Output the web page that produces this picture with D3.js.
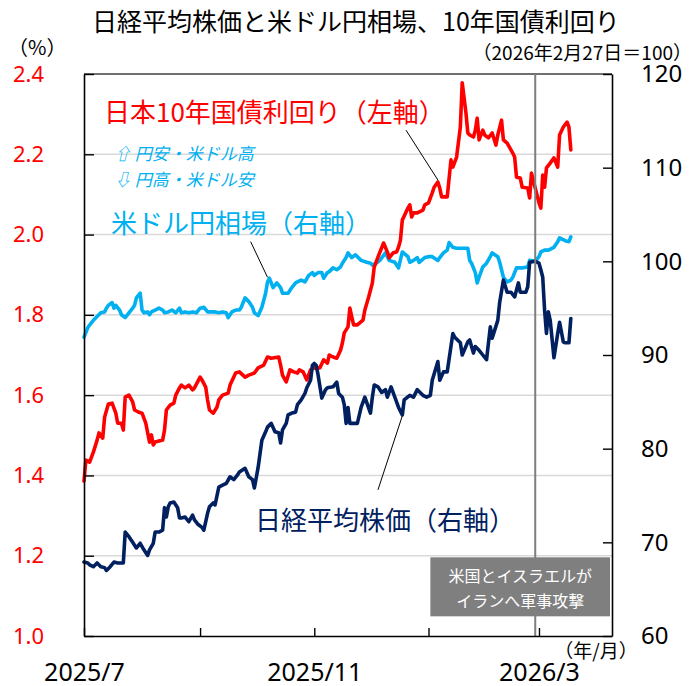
<!DOCTYPE html>
<html><head><meta charset="utf-8">
<script src="https://cdn.jsdelivr.net/npm/d3@7"></script>
<style>body{margin:0;background:#fff} svg{display:block}</style>
</head><body>
<svg id="c" width="700" height="686"></svg>
<script>
// ---- data ----
const jgb = [["2025-07-01",1.386],["2025-07-02",1.438],["2025-07-04",1.433],["2025-07-06",1.458],["2025-07-08",1.488],["2025-07-09",1.506],["2025-07-11",1.493],["2025-07-12",1.545],["2025-07-14",1.578],["2025-07-16",1.580],["2025-07-18",1.555],["2025-07-19",1.530],["2025-07-21",1.530],["2025-07-22",1.513],["2025-07-23",1.595],["2025-07-25",1.600],["2025-07-27",1.583],["2025-07-28",1.563],["2025-07-30",1.558],["2025-08-01",1.555],["2025-08-03",1.530],["2025-08-05",1.483],["2025-08-06",1.501],["2025-08-07",1.476],["2025-08-08",1.483],["2025-08-12",1.488],["2025-08-13",1.513],["2025-08-14",1.563],["2025-08-16",1.575],["2025-08-18",1.580],["2025-08-19",1.600],["2025-08-21",1.618],["2025-08-22",1.625],["2025-08-24",1.618],["2025-08-26",1.625],["2025-08-28",1.613],["2025-08-29",1.618],["2025-09-01",1.645],["2025-09-02",1.638],["2025-09-04",1.620],["2025-09-05",1.588],["2025-09-06",1.563],["2025-09-08",1.555],["2025-09-10",1.570],["2025-09-11",1.588],["2025-09-13",1.600],["2025-09-16",1.605],["2025-09-17",1.625],["2025-09-20",1.655],["2025-09-22",1.658],["2025-09-25",1.645],["2025-09-27",1.650],["2025-09-30",1.655],["2025-10-02",1.668],["2025-10-05",1.675],["2025-10-07",1.695],["2025-10-09",1.692],["2025-10-13",1.695],["2025-10-14",1.675],["2025-10-15",1.650],["2025-10-17",1.633],["2025-10-19",1.663],["2025-10-21",1.658],["2025-10-23",1.655],["2025-10-24",1.663],["2025-10-26",1.658],["2025-10-28",1.638],["2025-10-30",1.663],["2025-11-01",1.668],["2025-11-04",1.668],["2025-11-06",1.688],["2025-11-08",1.680],["2025-11-09",1.700],["2025-11-11",1.695],["2025-11-13",1.692],["2025-11-15",1.712],["2025-11-16",1.730],["2025-11-17",1.755],["2025-11-19",1.770],["2025-11-20",1.817],["2025-11-21",1.795],["2025-11-22",1.775],["2025-11-24",1.775],["2025-11-27",1.787],["2025-11-28",1.812],["2025-11-30",1.844],["2025-12-02",1.879],["2025-12-03",1.919],["2025-12-05",1.944],["2025-12-08",1.979],["2025-12-10",1.957],["2025-12-11",1.942],["2025-12-13",1.954],["2025-12-15",1.957],["2025-12-16",1.969],["2025-12-17",1.986],["2025-12-18",2.036],["2025-12-21",2.066],["2025-12-22",2.074],["2025-12-23",2.044],["2025-12-24",2.054],["2025-12-26",2.054],["2025-12-29",2.061],["2025-12-30",2.074],["2026-01-01",2.079],["2026-01-03",2.104],["2026-01-04",2.118],["2026-01-06",2.131],["2026-01-07",2.116],["2026-01-08",2.094],["2026-01-11",2.094],["2026-01-13",2.186],["2026-01-14",2.168],["2026-01-16",2.193],["2026-01-18",2.268],["2026-01-19",2.378],["2026-01-21",2.303],["2026-01-22",2.253],["2026-01-23",2.248],["2026-01-25",2.243],["2026-01-26",2.260],["2026-01-27",2.290],["2026-01-28",2.236],["2026-01-30",2.260],["2026-01-31",2.248],["2026-02-02",2.241],["2026-02-04",2.253],["2026-02-06",2.223],["2026-02-07",2.248],["2026-02-09",2.285],["2026-02-10",2.236],["2026-02-12",2.228],["2026-02-15",2.203],["2026-02-16",2.193],["2026-02-17",2.143],["2026-02-19",2.141],["2026-02-20",2.118],["2026-02-23",2.116],["2026-02-24",2.091],["2026-02-25",2.153],["2026-02-27",2.116],["2026-03-01",2.079],["2026-03-02",2.066],["2026-03-03",2.148],["2026-03-04",2.118],["2026-03-05",2.166],["2026-03-07",2.178],["2026-03-09",2.191],["2026-03-11",2.168],["2026-03-12",2.248],["2026-03-14",2.268],["2026-03-16",2.280],["2026-03-17",2.268],["2026-03-18",2.211]];

const usdjpy = [["2025-07-01",91.9],["2025-07-03",92.9],["2025-07-04",93.2],["2025-07-06",93.7],["2025-07-08",94.1],["2025-07-10",94.5],["2025-07-12",94.6],["2025-07-13",95.0],["2025-07-14",95.3],["2025-07-16",95.6],["2025-07-17",95.0],["2025-07-18",95.3],["2025-07-20",94.8],["2025-07-21",94.3],["2025-07-23",94.0],["2025-07-25",94.5],["2025-07-27",95.0],["2025-07-28",95.3],["2025-07-29",96.1],["2025-07-31",96.6],["2025-08-01",94.8],["2025-08-02",94.5],["2025-08-04",94.6],["2025-08-05",94.3],["2025-08-06",94.6],["2025-08-08",94.8],["2025-08-10",95.0],["2025-08-12",94.8],["2025-08-13",94.5],["2025-08-15",94.6],["2025-08-17",94.8],["2025-08-19",94.5],["2025-08-21",95.0],["2025-08-22",94.5],["2025-08-24",94.6],["2025-08-26",94.5],["2025-08-28",94.6],["2025-08-30",94.5],["2025-09-01",95.0],["2025-09-03",95.1],["2025-09-05",94.6],["2025-09-06",94.6],["2025-09-09",94.6],["2025-09-11",94.5],["2025-09-13",94.6],["2025-09-15",94.5],["2025-09-16",94.0],["2025-09-18",94.6],["2025-09-20",94.8],["2025-09-22",94.8],["2025-09-23",95.1],["2025-09-25",96.1],["2025-09-27",95.7],["2025-09-29",95.1],["2025-09-30",94.5],["2025-10-02",94.2],["2025-10-04",95.1],["2025-10-06",96.6],["2025-10-07",97.8],["2025-10-08",98.2],["2025-10-10",97.2],["2025-10-12",97.7],["2025-10-14",97.2],["2025-10-15",96.6],["2025-10-18",96.6],["2025-10-20",97.2],["2025-10-22",97.7],["2025-10-23",97.8],["2025-10-25",98.0],["2025-10-27",97.8],["2025-10-29",98.5],["2025-10-31",98.8],["2025-11-01",98.5],["2025-11-03",98.8],["2025-11-05",98.8],["2025-11-06",98.2],["2025-11-08",98.8],["2025-11-09",98.9],["2025-11-11",99.3],["2025-11-13",99.1],["2025-11-15",99.4],["2025-11-16",99.8],["2025-11-18",100.4],["2025-11-19",100.9],["2025-11-21",100.4],["2025-11-23",100.7],["2025-11-24",100.5],["2025-11-26",100.1],["2025-11-29",99.9],["2025-12-01",99.8],["2025-12-02",99.6],["2025-12-04",99.8],["2025-12-06",100.1],["2025-12-09",100.9],["2025-12-11",100.1],["2025-12-14",99.9],["2025-12-16",99.3],["2025-12-18",101.0],["2025-12-21",100.5],["2025-12-22",99.9],["2025-12-24",100.1],["2025-12-26",100.4],["2025-12-27",99.9],["2025-12-30",100.4],["2026-01-01",100.5],["2026-01-03",100.5],["2026-01-06",100.1],["2026-01-07",100.4],["2026-01-09",100.9],["2026-01-11",101.2],["2026-01-12",102.0],["2026-01-14",101.5],["2026-01-16",101.4],["2026-01-19",101.4],["2026-01-22",101.4],["2026-01-23",100.1],["2026-01-24",99.8],["2026-01-26",98.8],["2026-01-27",97.7],["2026-01-28",98.3],["2026-01-30",99.4],["2026-02-01",99.8],["2026-02-03",100.5],["2026-02-04",100.9],["2026-02-07",100.5],["2026-02-08",99.9],["2026-02-10",98.3],["2026-02-12",97.8],["2026-02-14",98.0],["2026-02-15",98.3],["2026-02-17",99.3],["2026-02-19",99.3],["2026-02-20",99.3],["2026-02-23",99.4],["2026-02-24",100.1],["2026-02-27",100.0],["2026-03-01",100.5],["2026-03-02",101.0],["2026-03-04",101.2],["2026-03-06",101.2],["2026-03-09",101.5],["2026-03-11",102.1],["2026-03-12",102.5],["2026-03-15",102.2],["2026-03-17",102.1],["2026-03-18",102.6]];

const nikkei = [["2025-07-01",67.9],["2025-07-03",67.8],["2025-07-04",67.6],["2025-07-06",67.4],["2025-07-08",67.8],["2025-07-10",67.4],["2025-07-12",67.3],["2025-07-13",67.0],["2025-07-15",67.4],["2025-07-17",67.9],["2025-07-19",67.8],["2025-07-21",67.8],["2025-07-22",67.8],["2025-07-23",71.1],["2025-07-25",70.6],["2025-07-27",70.0],["2025-07-28",69.7],["2025-07-29",69.4],["2025-07-31",69.9],["2025-08-02",69.2],["2025-08-04",68.6],["2025-08-05",69.2],["2025-08-07",69.9],["2025-08-08",71.1],["2025-08-10",71.1],["2025-08-12",71.3],["2025-08-13",73.7],["2025-08-14",72.7],["2025-08-15",73.8],["2025-08-16",74.2],["2025-08-18",74.3],["2025-08-20",73.7],["2025-08-21",72.6],["2025-08-22",72.6],["2025-08-24",72.7],["2025-08-26",72.2],["2025-08-28",72.9],["2025-08-29",72.4],["2025-08-31",71.9],["2025-09-02",71.6],["2025-09-03",71.3],["2025-09-05",73.1],["2025-09-06",73.8],["2025-09-08",74.2],["2025-09-09",74.0],["2025-09-11",75.9],["2025-09-13",76.1],["2025-09-15",76.3],["2025-09-17",77.0],["2025-09-19",76.7],["2025-09-21",77.2],["2025-09-22",77.5],["2025-09-25",77.9],["2025-09-27",77.0],["2025-09-29",76.7],["2025-09-30",75.8],["2025-10-02",78.0],["2025-10-04",80.9],["2025-10-06",81.8],["2025-10-07",82.3],["2025-10-09",82.7],["2025-10-11",81.8],["2025-10-13",81.7],["2025-10-14",80.6],["2025-10-15",82.0],["2025-10-17",82.7],["2025-10-18",83.6],["2025-10-20",83.8],["2025-10-22",83.9],["2025-10-23",84.7],["2025-10-25",85.2],["2025-10-27",85.9],["2025-10-28",86.5],["2025-10-30",87.3],["2025-10-31",88.9],["2025-11-01",89.1],["2025-11-02",88.9],["2025-11-03",87.9],["2025-11-05",85.4],["2025-11-07",86.3],["2025-11-08",86.5],["2025-11-11",86.6],["2025-11-13",87.1],["2025-11-14",85.9],["2025-11-16",85.5],["2025-11-17",84.7],["2025-11-18",82.7],["2025-11-19",84.4],["2025-11-20",82.7],["2025-11-22",82.7],["2025-11-24",82.7],["2025-11-26",84.4],["2025-11-28",85.5],["2025-12-01",83.8],["2025-12-02",85.5],["2025-12-03",86.8],["2025-12-05",86.6],["2025-12-07",86.0],["2025-12-09",86.3],["2025-12-10",85.5],["2025-12-12",86.6],["2025-12-14",85.5],["2025-12-16",84.4],["2025-12-18",83.6],["2025-12-19",85.2],["2025-12-22",85.7],["2025-12-24",85.5],["2025-12-26",86.3],["2025-12-29",85.7],["2025-12-31",85.5],["2026-01-02",85.7],["2026-01-03",87.3],["2026-01-06",89.3],["2026-01-07",87.3],["2026-01-09",88.2],["2026-01-11",88.2],["2026-01-14",92.3],["2026-01-15",91.9],["2026-01-18",91.3],["2026-01-19",90.0],["2026-01-22",91.4],["2026-01-23",91.6],["2026-01-25",90.2],["2026-01-26",90.9],["2026-01-28",90.5],["2026-01-30",90.0],["2026-02-01",89.5],["2026-02-03",93.0],["2026-02-04",91.8],["2026-02-07",93.7],["2026-02-08",95.6],["2026-02-10",98.0],["2026-02-12",96.7],["2026-02-14",96.7],["2026-02-16",96.2],["2026-02-18",97.7],["2026-02-19",96.7],["2026-02-22",96.7],["2026-02-23",97.3],["2026-02-24",99.9],["2026-02-27",100.0],["2026-03-01",99.8],["2026-03-02",99.1],["2026-03-03",98.3],["2026-03-04",94.8],["2026-03-05",92.3],["2026-03-06",94.6],["2026-03-07",93.7],["2026-03-09",89.7],["2026-03-11",92.3],["2026-03-12",93.5],["2026-03-14",91.4],["2026-03-15",91.3],["2026-03-17",91.3],["2026-03-18",93.9]];

const leftTicks = [1.0, 1.2, 1.4, 1.6, 1.8, 2.0, 2.2, 2.4];
const rightTicks = [60, 70, 80, 90, 100, 110, 120];
const xTicks = ["2025-07-01", "2025-09-01", "2025-11-01", "2026-01-01", "2026-03-01"];
const xTickLabels = {"2025-07-01": "2025/7", "2025-11-01": "2025/11", "2026-03-01": "2026/3"};
const xDomain = ["2025-07-01", "2026-04-09"];
const baseDate = "2026-02-27";

const titleText = "日経平均株価と米ドル円相場、10年国債利回り";
const leftUnit = "（%）";
const rightUnit = "（2026年2月27日＝100）";
const xUnit = "（年/月）";
const eventLines = ["米国とイスラエルが", "イランへ軍事攻撃"];
const seriesLabels = {jgb: "日本10年国債利回り（左軸）", usd: "米ドル円相場（右軸）", nk: "日経平均株価（右軸）"};
const fxNotes = ["⇧ 円安・米ドル高", "⇩ 円高・米ドル安"];
// leader lines in data coordinates: [date, value] -> [date, value]
const leaders = {
  jgb: [["2025-12-20", 2.26], ["2026-01-06", 2.136]],
  usd: [["2025-09-28", 102.1], ["2025-10-07", 98.3]],
  nk:  [["2025-12-05", 75.6], ["2025-12-18", 83.5]]
};
// event box extent in data coordinates
const eventBox = {from: "2026-01-02", y1: 68.4, y2: 62.1};

// ---- drawing ----
const parse = d3.timeParse("%Y-%m-%d");
const C = {red: "#FF0000", blue: "#00B0F0", navy: "#002060", grid: "#D9D9D9", gray: "#7F7F7F"};
const JP = "'Noto Sans CJK JP', 'Noto Sans', sans-serif";
const NUM = "'Noto Sans', 'Noto Sans CJK JP', sans-serif";

const L = 84, R = 612, T = 74, B = 636;
const svg = d3.select("#c");
const x = d3.scaleTime().domain(xDomain.map(parse)).range([L, R]);
const yL = d3.scaleLinear().domain([1.0, 2.4]).range([B, T]);
const yR = d3.scaleLinear().domain([60, 120]).range([B, T]);

// gridlines
svg.append("g").selectAll("line").data(leftTicks.filter(v => v > 1.0 && v < 2.4)).join("line")
  .attr("x1", L).attr("x2", R).attr("y1", d => yL(d)).attr("y2", d => yL(d))
  .attr("stroke", C.grid).attr("stroke-width", 1.5);
// top border
svg.append("line").attr("x1", L).attr("x2", R).attr("y1", yL(2.4)).attr("y2", yL(2.4))
  .attr("stroke", "#404040").attr("stroke-width", 1.5);

const lineL = d3.line().x(d => x(parse(d[0]))).y(d => yL(d[1]));
const lineR = d3.line().x(d => x(parse(d[0]))).y(d => yR(d[1]));
function drawSeries(data, gen, color) {
  svg.append("path").datum(data).attr("d", gen).attr("fill", "none")
    .attr("stroke", color).attr("stroke-width", 3.6)
    .attr("stroke-linejoin", "round").attr("stroke-linecap", "round");
}
drawSeries(usdjpy, lineR, C.blue);
drawSeries(jgb, lineL, C.red);
drawSeries(nikkei, lineR, C.navy);

// base-date vertical line
svg.append("line").attr("x1", x(parse(baseDate))).attr("x2", x(parse(baseDate)))
  .attr("y1", T).attr("y2", B).attr("stroke", C.gray).attr("stroke-width", 2);

// event box
const boxX = x(parse(eventBox.from)), boxW = R - 2 - boxX;
const boxY = yR(eventBox.y1), boxH = yR(eventBox.y2) - yR(eventBox.y1);
svg.append("rect").attr("x", boxX).attr("y", boxY).attr("width", boxW).attr("height", boxH).attr("fill", C.gray);
svg.append("g").selectAll("text").data(eventLines).join("text")
  .attr("x", boxX + boxW / 2).attr("y", (d, i) => boxY + 18 + i * 25)
  .attr("text-anchor", "middle").attr("dominant-baseline", "central")
  .attr("fill", "#fff").style("font-family", JP).style("font-size", "16px").text(d => d);

// axes
const gL = svg.append("g").attr("transform", `translate(${L},0)`)
  .call(d3.axisLeft(yL).tickValues(leftTicks).tickFormat(d3.format(".1f")).tickSizeInner(-10).tickSizeOuter(0).tickPadding(40));
gL.selectAll("text").attr("fill", C.red).style("font-family", NUM).style("font-size", "22px");

const gR = svg.append("g").attr("transform", `translate(${R},0)`)
  .call(d3.axisRight(yR).tickValues(rightTicks).tickSizeInner(-9).tickSizeOuter(0).tickPadding(29));
gR.selectAll("text").attr("fill", "#000").style("font-family", NUM).style("font-size", "24px");

const gB = svg.append("g").attr("transform", `translate(0,${B})`)
  .call(d3.axisBottom(x).tickValues(xTicks.map(parse)).tickFormat(d => xTickLabels[d3.timeFormat("%Y-%m-%d")(d)] || "")
    .tickSizeInner(-8).tickSizeOuter(0).tickPadding(27));
gB.selectAll("text").attr("fill", "#000").style("font-family", NUM).style("font-size", "25px");

[gL, gR, gB].forEach(g => {
  g.select(".domain").attr("stroke", "#000").attr("stroke-width", 1.6);
  g.selectAll(".tick line").attr("stroke", "#000").attr("stroke-width", 1.4);
});

// titles & units
function txt(s, xx, yy, size, anchor, color, extra) {
  const t = svg.append("text").attr("x", xx).attr("y", yy).attr("text-anchor", anchor)
    .attr("dominant-baseline", "central").attr("fill", color)
    .style("font-family", JP).style("font-size", size + "px").text(s);
  if (extra) extra(t);
  return t;
}
txt(titleText, 356, 20, 25, "middle", "#000");
txt(leftUnit, 8, 46, 20, "start", "#000");
txt(rightUnit, 692, 51, 19, "end", "#000");
txt(xUnit, 596, 649, 19, "middle", "#000");

// series labels
txt(seriesLabels.jgb, 104, 110, 26, "start", C.red);
txt(seriesLabels.usd, 111, 221, 26, "start", C.blue);
txt(seriesLabels.nk, 255, 518, 26, "start", C.navy);
fxNotes.forEach((s, i) => txt(s, 114, 152 + i * 26, 17, "start", C.blue, t => t.style("font-style", "italic")));

// leader lines
const leaderPath = (pts, y) => pts.map(p => [x(parse(p[0])), y(p[1])]);
[[leaders.jgb, yL], [leaders.usd, yR], [leaders.nk, yR]].forEach(([pts, y]) => {
  const p = leaderPath(pts, y);
  svg.append("line").attr("x1", p[0][0]).attr("y1", p[0][1]).attr("x2", p[1][0]).attr("y2", p[1][1])
    .attr("stroke", "#000").attr("stroke-width", 1);
});
</script>
</body></html>
